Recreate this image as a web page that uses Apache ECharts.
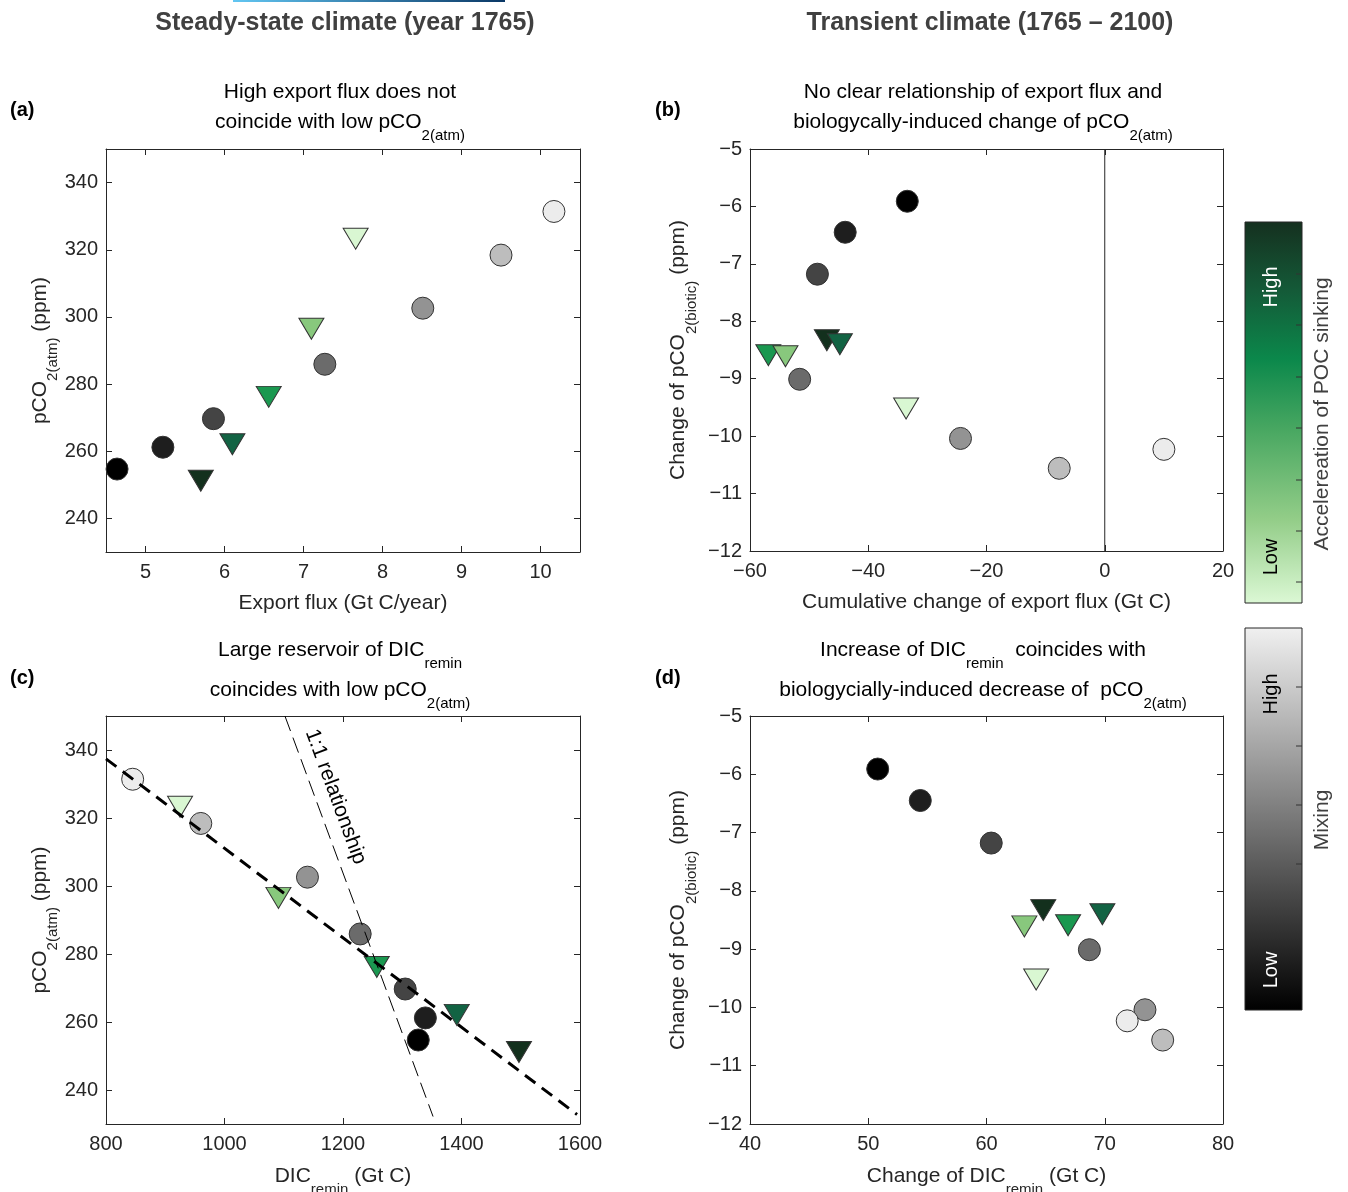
<!DOCTYPE html>
<html>
<head>
<meta charset="utf-8">
<title>Export flux, DIC remin and pCO2</title>
<script src="https://cdn.jsdelivr.net/npm/echarts@6/dist/echarts.min.js"></script>
<style>
  html, body { margin: 0; padding: 0; background: #fff; }
  #chart { width: 1348px; height: 1192px; }
</style>
</head>
<body>
<div id="chart"></div>
<script>
// run colours: grey = mixing (low -> high), green = acceleration of POC sinking (high -> low)
var mixColors = ['#000000', '#1e1e1e', '#444444', '#6b6b6b', '#939393', '#bdbdbd', '#ececec'];
var pocColors = ['#13301d', '#126343', '#1a9850', '#88c87d', '#d9f7d2'];

// (a) steady state: export flux vs pCO2(atm)
var exportMix = [4.64, 5.22, 5.86, 7.27, 8.51, 9.50, 10.17];
var exportPoc = [5.70, 6.10, 6.56, 7.10, 7.66];
var pco2Mix = [254.7, 261.2, 269.7, 285.9, 302.6, 318.4, 331.4];
var pco2Poc = [251.2, 262.1, 276.2, 296.5, 323.3];

// (b) transient: cumulative change of export vs change of pCO2(biotic)
var dExportMix = [-33.4, -43.9, -48.6, -51.6, -24.4, -7.7, 10.0];
var dExportPoc = [-47.0, -44.8, -56.9, -54.0, -33.6];
var dPco2Mix = [-5.91, -6.45, -7.18, -9.01, -10.04, -10.56, -10.23];
var dPco2Poc = [-8.33, -8.40, -8.59, -8.61, -9.52];
var zeroLine = [[0, -12], [0, -5]];

// (c) DIC remin vs pCO2(atm)
var dicMix = [1327, 1339, 1305, 1229, 1140, 960, 845];
var dicPoc = [1497, 1392, 1257, 1091, 925];
var fitLine = [[800, 337.4], [1595, 232.8]];
var oneToOne = [[1102, 350], [1352, 232.2]];

// (d) change of DIC remin vs change of pCO2(biotic)
var dDicMix = [50.8, 54.4, 60.4, 68.7, 73.4, 74.9, 71.9];
var dDicPoc = [64.8, 69.8, 66.9, 63.2, 64.2];

// tick values where min is not on a tick
var pco2Ticks = [240, 260, 280, 300, 320, 340];
var exportTicks = [5, 6, 7, 8, 9, 10];

var AX = '#262626';
var FONT = '"Liberation Sans", Arial, Helvetica, sans-serif';

// fixed plot boxes (no shrinking to fit labels)
var grids = [
    { left: 106, top: 149, width: 474, height: 403, outerBoundsMode: 'none' },
    { left: 750, top: 149, width: 473, height: 402, outerBoundsMode: 'none' },
    { left: 106, top: 716, width: 474, height: 408, outerBoundsMode: 'none' },
    { left: 750, top: 716, width: 473, height: 408, outerBoundsMode: 'none' }
];

// rich styles, "s" is the subscript
function rich(color, lh) {
    return {
        b: { fontSize: 21, lineHeight: lh, verticalAlign: 'top', fontWeight: 'normal', color: color, fontFamily: FONT },
        s: { fontSize: 15, lineHeight: 15, padding: [16, 0, 0, 0], verticalAlign: 'top', fontWeight: 'normal', color: color, fontFamily: FONT }
    };
}

function minus(v) {
    return String(v).replace('-', '\u2212');
}

// one axis pair (bottom+top or left+right) for a grid
function axisPair(dim, g, min, max, interval, ticks, name, gap) {
    var pos = dim === 'x' ? ['bottom', 'top'] : ['left', 'right'];
    var out = [];
    for (var k = 0; k < 2; k++) {
        var a = {
            type: 'value',
            gridIndex: g,
            position: pos[k],
            min: min,
            max: max,
            axisLine: { show: true, onZero: false, lineStyle: { color: AX, width: 1 } },
            axisTick: { show: true, inside: true, length: 6, lineStyle: { color: AX } },
            axisLabel: {
                show: k === 0,
                fontSize: 20,
                color: AX,
                fontFamily: FONT,
                margin: dim === 'x' ? 10 : 8,
                formatter: minus
            },
            splitLine: { show: false }
        };
        if (ticks) {
            a.axisTick.customValues = ticks;
            a.axisLabel.customValues = ticks;
        } else {
            a.interval = interval;
        }
        if (k === 0) {
            a.name = name;
            a.nameLocation = 'middle';
            a.nameGap = gap;
            a.nameTextStyle = { color: AX, fontSize: 21, fontFamily: FONT, rich: rich(AX, 28) };
        }
        out.push(a);
    }
    return out;
}

var xAxis = [].concat(
    axisPair('x', 0, 4.5, 10.5, null, exportTicks, '{b|Export flux (Gt C/year)}', 41),
    axisPair('x', 1, -60, 20, 20, null, '{b|Cumulative change of export flux (Gt C)}', 41),
    axisPair('x', 2, 800, 1600, 200, null, '{b|DIC}{s|remin}{b| (Gt C)}', 42),
    axisPair('x', 3, 40, 80, 10, null, '{b|Change of DIC}{s|remin}{b| (Gt C)}', 42)
);
var yAxis = [].concat(
    axisPair('y', 0, 230, 350, null, pco2Ticks, '{b|pCO}{s|2(atm)}{b| (ppm)}', 48),
    axisPair('y', 1, -12, -5, 1, null, '{b|Change of pCO}{s|2(biotic)}{b| (ppm)}', 54),
    axisPair('y', 2, 230, 350, null, pco2Ticks, '{b|pCO}{s|2(atm)}{b| (ppm)}', 48),
    axisPair('y', 3, -12, -5, 1, null, '{b|Change of pCO}{s|2(biotic)}{b| (ppm)}', 54)
);

function pts(xs, ys, colors) {
    return xs.map(function (x, i) {
        return { value: [x, ys[i]], itemStyle: { color: colors[i] } };
    });
}
function circles(g, xs, ys) {
    return {
        type: 'scatter', xAxisIndex: g * 2, yAxisIndex: g * 2,
        symbol: 'circle', symbolSize: 22, z: 2,
        itemStyle: { borderColor: '#333', borderWidth: 1, opacity: 1 },
        data: pts(xs, ys, mixColors)
    };
}
function triangles(g, xs, ys) {
    return {
        type: 'scatter', xAxisIndex: g * 2, yAxisIndex: g * 2,
        symbol: 'triangle', symbolRotate: 180, symbolSize: [25, 21], z: 2,
        itemStyle: { borderColor: '#333', borderWidth: 1, opacity: 1 },
        data: pts(xs, ys, pocColors)
    };
}

var series = [
    circles(0, exportMix, pco2Mix),
    triangles(0, exportPoc, pco2Poc),
    {
        type: 'line', xAxisIndex: 2, yAxisIndex: 2, data: zeroLine, symbol: 'none', z: 1,
        lineStyle: { color: AX, width: 1 }
    },
    circles(1, dExportMix, dPco2Mix),
    triangles(1, dExportPoc, dPco2Poc),
    circles(2, dicMix, pco2Mix),
    triangles(2, dicPoc, pco2Poc),
    {
        type: 'line', xAxisIndex: 4, yAxisIndex: 4, data: fitLine, symbol: 'none', z: 3,
        lineStyle: { color: '#000', width: 3, type: [13, 8] },
        markLine: {
            silent: true,
            symbol: 'none',
            lineStyle: { color: '#000', width: 1, type: [16, 7] },
            label: {
                show: true, position: 'insideStartTop', formatter: '1:1 relationship',
                fontSize: 21, color: '#000', fontFamily: FONT, distance: [22, 9]
            },
            data: [[{ coord: oneToOne[0] }, { coord: oneToOne[1] }]]
        }
    },
    circles(3, dDicMix, dPco2Mix),
    triangles(3, dDicPoc, dPco2Poc)
];

var title = [
    { text: 'Steady-state climate (year 1765)', left: 345, top: 11, textAlign: 'center', padding: 0,
      textStyle: { fontSize: 25, fontWeight: 'bold', color: '#404040', fontFamily: FONT } },
    { text: 'Transient climate (1765 \u2013 2100)', left: 990, top: 11, textAlign: 'center', padding: 0,
      textStyle: { fontSize: 25, fontWeight: 'bold', color: '#404040', fontFamily: FONT } },
    { text: '{b|High export flux does not}\n{b|coincide with low pCO}{s|2(atm)}', left: 340, top: 82,
      textAlign: 'center', padding: 0, textStyle: { rich: rich('#000', 30) } },
    { text: '{b|No clear relationship of export flux and}\n{b|biologycally-induced change of pCO}{s|2(atm)}', left: 983, top: 82,
      textAlign: 'center', padding: 0, textStyle: { rich: rich('#000', 30) } },
    { text: '{b|Large reservoir of DIC}{s|remin}\n{b|coincides with low pCO}{s|2(atm)}', left: 340, top: 640,
      textAlign: 'center', padding: 0, textStyle: { rich: rich('#000', 40) } },
    { text: '{b|Increase of DIC}{s|remin}{b|  coincides with}\n{b|biologycially-induced decrease of  pCO}{s|2(atm)}', left: 983, top: 640,
      textAlign: 'center', padding: 0, textStyle: { rich: rich('#000', 40) } }
];
var letters = [['(a)', 10, 100], ['(b)', 655, 100], ['(c)', 10, 668], ['(d)', 655, 668]];
letters.forEach(function (l) {
    title.push({ text: l[0], left: l[1], top: l[2], padding: 0,
        textStyle: { fontSize: 20, fontWeight: 'bold', color: '#000', fontFamily: FONT } });
});

// colour bars
function vtext(txt, x, y, color, size) {
    return {
        type: 'text', x: x, y: y, rotation: Math.PI / 2,
        style: { text: txt, fill: color, font: (size || 20) + 'px ' + FONT, align: 'center', verticalAlign: 'middle',
                 textAlign: 'center', textVerticalAlign: 'middle' }
    };
}
var graphic = [
    { type: 'rect', shape: { x: 233, y: 0, width: 272, height: 2 },
      style: { fill: new echarts.graphic.LinearGradient(0, 0, 1, 0, [
          { offset: 0, color: '#62c6f2' }, { offset: 1, color: '#0a3765' }]) } },
    { type: 'rect', shape: { x: 1245, y: 222, width: 57, height: 381 },
      style: { stroke: AX, lineWidth: 1, fill: new echarts.graphic.LinearGradient(0, 0, 0, 1, [
          { offset: 0, color: '#15301f' }, { offset: 0.18, color: '#145a38' }, { offset: 0.36, color: '#0b884b' },
          { offset: 0.55, color: '#4aa862' }, { offset: 0.78, color: '#93cd88' }, { offset: 1, color: '#dcf8d5' }]) } },
    { type: 'rect', shape: { x: 1245, y: 628, width: 57, height: 382 },
      style: { stroke: AX, lineWidth: 1, fill: new echarts.graphic.LinearGradient(0, 0, 0, 1, [
          { offset: 0, color: '#f0f0f0' }, { offset: 1, color: '#000000' }]) } },
    vtext('High', 1271, 287, '#ffffff'),
    vtext('Low', 1271, 557, '#000000'),
    vtext('High', 1271, 694, '#000000'),
    vtext('Low', 1271, 970, '#ffffff'),
    vtext('Accelereation of POC sinking', 1322, 414, '#404040', 21),
    vtext('Mixing', 1322, 820, '#404040', 21)
];
[274, 325, 377, 428, 480, 531, 582, 687, 746, 805, 864].forEach(function (y) {
    graphic.push({ type: 'line', shape: { x1: 1296, y1: y, x2: 1302, y2: y }, style: { stroke: '#333', lineWidth: 1 } });
});

var myChart = echarts.init(document.getElementById('chart'));
var option = {
    backgroundColor: '#fff',
    animation: false,
    title: title,
    grid: grids,
    xAxis: xAxis,
    yAxis: yAxis,
    series: series,
    graphic: graphic
};
option && myChart.setOption(option);
</script>
</body>
</html>
